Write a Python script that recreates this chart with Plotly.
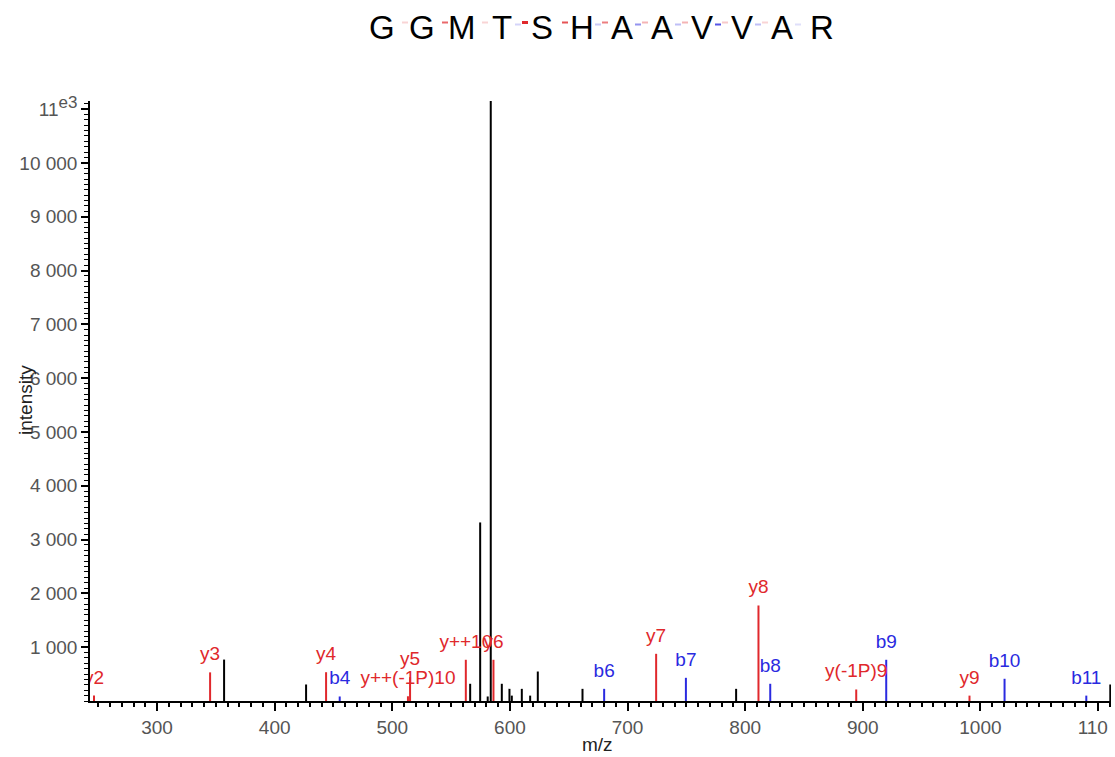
import plotly.graph_objects as go

# ---- data ----
black_mz = [357.0, 426.7, 566.2, 574.7, 581.1, 583.7, 593.1, 599.6, 601.6, 610.1, 617.2, 623.7, 661.7, 792.3, 1110.4]
black_int = [770, 307, 320, 3318, 84, 11150, 320, 226, 100, 226, 100, 548, 226, 226, 307]

y_labels = ["y2", "y3", "y4", "y++(-1P)10", "y5", "y++10", "y6", "y7", "y8", "y(-1P)9", "y9"]
y_mz = [246.4, 345.1, 443.7, 513.3, 515.1, 562.5, 586.0, 724.3, 811.3, 894.4, 990.7]
y_int = [100, 532, 535, 88, 443, 766, 766, 877, 1775, 214, 100]

b_labels = ["b4", "b6", "b7", "b8", "b9", "b10", "b11"]
b_mz = [455.3, 680.1, 749.6, 821.3, 919.9, 1020.5, 1090.0]
b_int = [84, 226, 431, 320, 766, 413, 100]

peptide = list("GGMTSHAAVVAR")
# fragment coverage strength per gap (b ions / y ions)
gap_b = [0.0, 0.0, 0.0, 0.2, 0.0, 0.25, 0.5, 0.3, 0.8, 0.3, 0.15]
gap_y = [0.2, 0.7, 0.2, 1.0, 0.8, 0.6, 0.35, 0.35, 0.25, 0.2, 0.0]

x_ticks = [300, 400, 500, 600, 700, 800, 900, 1000, 1100]
x_ticktext = ["300", "400", "500", "600", "700", "800", "900", "1000", "110\u2007"]
y_ticks = [1000, 2000, 3000, 4000, 5000, 6000, 7000, 8000, 9000, 10000, 11000]
y_ticktext = ["1 000", "2 000", "3 000", "4 000", "5 000", "6 000", "7 000", "8 000", "9 000", "10 000",
              "11<sup><span style='font-size:17px'>e3</span></sup>"]

RED = "#e0282c"
BLUE = "#2a2ae0"
FONT = "Liberation Sans, Arial, sans-serif"

W, H = 1115, 757
ML, MR, MT, MB = 90, 4, 101, 56
PW, PH = W - ML - MR, H - MT - MB


def stems(xs, ys):
    sx, sy = [], []
    for x, y in zip(xs, ys):
        sx += [x, x, None]
        sy += [0, y, None]
    return sx, sy


fig = go.Figure()
for xs, ys, col in [(black_mz, black_int, "black"), (y_mz, y_int, RED), (b_mz, b_int, BLUE)]:
    sx, sy = stems(xs, ys)
    fig.add_trace(go.Scatter(x=sx, y=sy, mode="lines", line=dict(color=col, width=2),
                             hoverinfo="skip", showlegend=False))

for xs, ys, labs, col in [(y_mz, y_int, y_labels, RED), (b_mz, b_int, b_labels, BLUE)]:
    fig.add_trace(go.Scatter(x=xs, y=ys, mode="markers+text", text=labs, textposition="top center",
                             marker=dict(size=10, color="rgba(0,0,0,0)"),
                             textfont=dict(color=col, size=19, family=FONT),
                             cliponaxis=True, showlegend=False, hoverinfo="skip"))


def px2paper(px, py):
    return (px - ML) / PW, (H - MB - py) / PH


annotations = []
shapes = []
# peptide title
for i, aa in enumerate(peptide):
    cx = 382 + 40 * i
    x, y = px2paper(cx, 27)
    annotations.append(dict(text=aa, x=x, y=y, xref="paper", yref="paper", showarrow=False,
                            xanchor="center", yanchor="middle",
                            font=dict(size=33, color="black", family=FONT)))
for i in range(len(peptide) - 1):
    gx = 402 + 40 * i
    if gap_b[i] > 0:
        x0, y0 = px2paper(gx - 7, 24.5)
        x1, _ = px2paper(gx - 1, 24.5)
        shapes.append(dict(type="line", xref="paper", yref="paper", x0=x0, x1=x1, y0=y0, y1=y0,
                           line=dict(color=f"rgba(42,42,224,{gap_b[i]})", width=2)))
    if gap_y[i] > 0:
        x0, y0 = px2paper(gx, 22.5)
        x1, _ = px2paper(gx + 6, 22.5)
        shapes.append(dict(type="line", xref="paper", yref="paper", x0=x0, x1=x1, y0=y0, y1=y0,
                           line=dict(color=f"rgba(224,40,44,{gap_y[i]})", width=2 if gap_y[i] < 0.9 else 3)))

ax_x, ax_y = px2paper(25, 400)
annotations.append(dict(text="intensity", x=ax_x, y=ax_y, xref="paper", yref="paper", showarrow=False,
                        textangle=-90, xanchor="center", yanchor="middle",
                        font=dict(size=19, color="#222", family=FONT)))
mx, my = px2paper(597, 744)
annotations.append(dict(text="m/z", x=mx, y=my, xref="paper", yref="paper", showarrow=False,
                        xanchor="center", yanchor="middle",
                        font=dict(size=19, color="#222", family=FONT)))

fig.update_layout(
    width=W, height=H,
    margin=dict(l=ML, r=MR, t=MT, b=MB, autoexpand=False),
    plot_bgcolor="white", paper_bgcolor="white",
    annotations=annotations, shapes=shapes,
    font=dict(family=FONT),
)
fig.update_xaxes(range=[243, 1111], showgrid=False, zeroline=False, automargin=False,
                 showline=True, linecolor="black", linewidth=1.5,
                 tickmode="array", tickvals=x_ticks, ticktext=x_ticktext,
                 ticks="outside", ticklen=8, tickwidth=1.5, tickcolor="black",
                 ticklabeloverflow="allow",
                 tickfont=dict(size=19, color="#555", family=FONT),
                 minor=dict(dtick=10, ticks="outside", ticklen=4, tickwidth=1.5, tickcolor="black", showgrid=False))
fig.update_yaxes(range=[0, 11150], showgrid=False, zeroline=False, automargin=False,
                 showline=True, linecolor="black", linewidth=1.5,
                 tickmode="array", tickvals=y_ticks, ticktext=y_ticktext,
                 ticks="outside", ticklen=7, tickwidth=1.5, tickcolor="black",
                 ticklabeloverflow="allow",
                 tickfont=dict(size=19, color="#555", family=FONT),
                 minor=dict(dtick=100, ticks="outside", ticklen=4, tickwidth=1, tickcolor="black", showgrid=False))

fig.write_html("out.html", config={"displayModeBar": False},
               post_script="document.body.style.margin='0';document.body.style.overflow='hidden';")
